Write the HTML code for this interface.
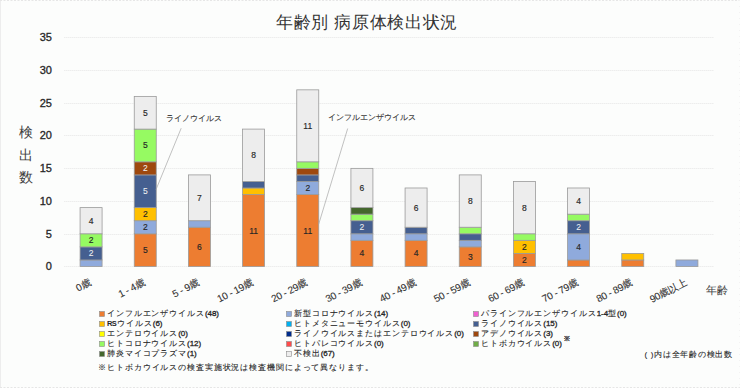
<!DOCTYPE html>
<html><head><meta charset="utf-8"><style>
html,body{margin:0;padding:0;background:#FCFDFC;}
svg{display:block;font-family:"Liberation Sans",sans-serif;}
</style></head><body>
<svg width="740" height="388" viewBox="0 0 740 388">
<rect x="0" y="0" width="740" height="388" fill="#FCFDFC"/>
<line x1="0.5" y1="0" x2="0.5" y2="388" stroke="#EDEDED"/>
<line x1="0" y1="0.5" x2="740" y2="0.5" stroke="#E6E6E6" stroke-dasharray="2,1.5"/>
<line x1="0" y1="387.5" x2="740" y2="387.5" stroke="#E6E6E6" stroke-dasharray="2,1.5"/>
<line x1="739.5" y1="0" x2="739.5" y2="388" stroke="#F3F3F3" stroke-dasharray="1,5"/>

<text x="367" y="28" font-size="17" letter-spacing="0.65" fill="#333333" text-anchor="middle">年齢別 病原体検出状況</text>
<line x1="64" y1="266.5" x2="714" y2="266.5" stroke="#EDEDED" stroke-width="1" stroke-dasharray="1.5,0.5"/>
<text x="51.9" y="269.9" font-size="11" fill="#262626" stroke="#262626" stroke-width="0.3" text-anchor="end">0</text>
<line x1="64" y1="234.5" x2="714" y2="234.5" stroke="#EDEDED" stroke-width="1" stroke-dasharray="1.5,0.5"/>
<text x="51.9" y="237.9" font-size="11" fill="#262626" stroke="#262626" stroke-width="0.3" text-anchor="end">5</text>
<line x1="64" y1="201.5" x2="714" y2="201.5" stroke="#EDEDED" stroke-width="1" stroke-dasharray="1.5,0.5"/>
<text x="51.9" y="204.9" font-size="11" fill="#262626" stroke="#262626" stroke-width="0.3" text-anchor="end">10</text>
<line x1="64" y1="168.5" x2="714" y2="168.5" stroke="#EDEDED" stroke-width="1" stroke-dasharray="1.5,0.5"/>
<text x="51.9" y="171.9" font-size="11" fill="#262626" stroke="#262626" stroke-width="0.3" text-anchor="end">15</text>
<line x1="64" y1="135.5" x2="714" y2="135.5" stroke="#EDEDED" stroke-width="1" stroke-dasharray="1.5,0.5"/>
<text x="51.9" y="138.9" font-size="11" fill="#262626" stroke="#262626" stroke-width="0.3" text-anchor="end">20</text>
<line x1="64" y1="103.5" x2="714" y2="103.5" stroke="#EDEDED" stroke-width="1" stroke-dasharray="1.5,0.5"/>
<text x="51.9" y="106.9" font-size="11" fill="#262626" stroke="#262626" stroke-width="0.3" text-anchor="end">25</text>
<line x1="64" y1="70.5" x2="714" y2="70.5" stroke="#EDEDED" stroke-width="1" stroke-dasharray="1.5,0.5"/>
<text x="51.9" y="73.9" font-size="11" fill="#262626" stroke="#262626" stroke-width="0.3" text-anchor="end">30</text>
<line x1="64" y1="37.5" x2="714" y2="37.5" stroke="#EDEDED" stroke-width="1" stroke-dasharray="1.5,0.5"/>
<text x="51.9" y="40.9" font-size="11" fill="#262626" stroke="#262626" stroke-width="0.3" text-anchor="end">35</text>
<text x="25.7" y="137.0" font-size="14" fill="#404040" text-anchor="middle">検</text>
<text x="25.7" y="159.6" font-size="14" fill="#404040" text-anchor="middle">出</text>
<text x="25.7" y="182.2" font-size="14" fill="#404040" text-anchor="middle">数</text>
<rect x="80.08" y="259.96" width="22" height="6.54" fill="#8FAADC" stroke="#9A9A9A" stroke-width="0.8"/>
<rect x="80.08" y="246.87" width="22" height="13.09" fill="#455F90" stroke="#9A9A9A" stroke-width="0.8"/>
<text x="91.08" y="256.41" font-size="8.5" fill="#F2F2F2" stroke="#F2F2F2" stroke-width="0.05" text-anchor="middle">2</text>
<rect x="80.08" y="233.79" width="22" height="13.09" fill="#96FA62" stroke="#9A9A9A" stroke-width="0.8"/>
<text x="91.08" y="243.33" font-size="8.5" fill="#262626" stroke="#262626" stroke-width="0.15" text-anchor="middle">2</text>
<rect x="80.08" y="207.61" width="22" height="26.17" fill="#EDEDED" stroke="#9A9A9A" stroke-width="0.8"/>
<text x="91.08" y="223.70" font-size="8.5" fill="#262626" stroke="#262626" stroke-width="0.15" text-anchor="middle">4</text>
<rect x="134.25" y="233.79" width="22" height="32.71" fill="#ED7D31" stroke="#9A9A9A" stroke-width="0.8"/>
<text x="145.25" y="253.14" font-size="8.5" fill="#262626" stroke="#262626" stroke-width="0.15" text-anchor="middle">5</text>
<rect x="134.25" y="220.70" width="22" height="13.09" fill="#8FAADC" stroke="#9A9A9A" stroke-width="0.8"/>
<text x="145.25" y="230.24" font-size="8.5" fill="#262626" stroke="#262626" stroke-width="0.15" text-anchor="middle">2</text>
<rect x="134.25" y="207.61" width="22" height="13.09" fill="#FFC000" stroke="#9A9A9A" stroke-width="0.8"/>
<text x="145.25" y="217.16" font-size="8.5" fill="#262626" stroke="#262626" stroke-width="0.15" text-anchor="middle">2</text>
<rect x="134.25" y="174.90" width="22" height="32.71" fill="#455F90" stroke="#9A9A9A" stroke-width="0.8"/>
<text x="145.25" y="194.26" font-size="8.5" fill="#F2F2F2" stroke="#F2F2F2" stroke-width="0.05" text-anchor="middle">5</text>
<rect x="134.25" y="161.81" width="22" height="13.09" fill="#9E480E" stroke="#9A9A9A" stroke-width="0.8"/>
<text x="145.25" y="171.36" font-size="8.5" fill="#F2F2F2" stroke="#F2F2F2" stroke-width="0.05" text-anchor="middle">2</text>
<rect x="134.25" y="129.10" width="22" height="32.71" fill="#96FA62" stroke="#9A9A9A" stroke-width="0.8"/>
<text x="145.25" y="148.46" font-size="8.5" fill="#262626" stroke="#262626" stroke-width="0.15" text-anchor="middle">5</text>
<rect x="134.25" y="96.39" width="22" height="32.71" fill="#EDEDED" stroke="#9A9A9A" stroke-width="0.8"/>
<text x="145.25" y="115.74" font-size="8.5" fill="#262626" stroke="#262626" stroke-width="0.15" text-anchor="middle">5</text>
<rect x="188.42" y="227.24" width="22" height="39.26" fill="#ED7D31" stroke="#9A9A9A" stroke-width="0.8"/>
<text x="199.42" y="249.87" font-size="8.5" fill="#262626" stroke="#262626" stroke-width="0.15" text-anchor="middle">6</text>
<rect x="188.42" y="220.70" width="22" height="6.54" fill="#8FAADC" stroke="#9A9A9A" stroke-width="0.8"/>
<rect x="188.42" y="174.90" width="22" height="45.80" fill="#EDEDED" stroke="#9A9A9A" stroke-width="0.8"/>
<text x="199.42" y="200.80" font-size="8.5" fill="#262626" stroke="#262626" stroke-width="0.15" text-anchor="middle">7</text>
<rect x="242.58" y="194.53" width="22" height="71.97" fill="#ED7D31" stroke="#9A9A9A" stroke-width="0.8"/>
<text x="253.58" y="233.51" font-size="8.5" fill="#262626" stroke="#262626" stroke-width="0.15" text-anchor="middle">11</text>
<rect x="242.58" y="187.99" width="22" height="6.54" fill="#FFC000" stroke="#9A9A9A" stroke-width="0.8"/>
<rect x="242.58" y="181.44" width="22" height="6.54" fill="#455F90" stroke="#9A9A9A" stroke-width="0.8"/>
<rect x="242.58" y="129.10" width="22" height="52.34" fill="#EDEDED" stroke="#9A9A9A" stroke-width="0.8"/>
<text x="253.58" y="158.27" font-size="8.5" fill="#262626" stroke="#262626" stroke-width="0.15" text-anchor="middle">8</text>
<rect x="296.75" y="194.53" width="22" height="71.97" fill="#ED7D31" stroke="#9A9A9A" stroke-width="0.8"/>
<text x="307.75" y="233.51" font-size="8.5" fill="#262626" stroke="#262626" stroke-width="0.15" text-anchor="middle">11</text>
<rect x="296.75" y="181.44" width="22" height="13.09" fill="#8FAADC" stroke="#9A9A9A" stroke-width="0.8"/>
<text x="307.75" y="190.99" font-size="8.5" fill="#262626" stroke="#262626" stroke-width="0.15" text-anchor="middle">2</text>
<rect x="296.75" y="174.90" width="22" height="6.54" fill="#455F90" stroke="#9A9A9A" stroke-width="0.8"/>
<rect x="296.75" y="168.36" width="22" height="6.54" fill="#9E480E" stroke="#9A9A9A" stroke-width="0.8"/>
<rect x="296.75" y="161.81" width="22" height="6.54" fill="#96FA62" stroke="#9A9A9A" stroke-width="0.8"/>
<rect x="296.75" y="89.84" width="22" height="71.97" fill="#EDEDED" stroke="#9A9A9A" stroke-width="0.8"/>
<text x="307.75" y="128.83" font-size="8.5" fill="#262626" stroke="#262626" stroke-width="0.15" text-anchor="middle">11</text>
<rect x="350.92" y="240.33" width="22" height="26.17" fill="#ED7D31" stroke="#9A9A9A" stroke-width="0.8"/>
<text x="361.92" y="256.41" font-size="8.5" fill="#262626" stroke="#262626" stroke-width="0.15" text-anchor="middle">4</text>
<rect x="350.92" y="233.79" width="22" height="6.54" fill="#8FAADC" stroke="#9A9A9A" stroke-width="0.8"/>
<rect x="350.92" y="220.70" width="22" height="13.09" fill="#455F90" stroke="#9A9A9A" stroke-width="0.8"/>
<text x="361.92" y="230.24" font-size="8.5" fill="#F2F2F2" stroke="#F2F2F2" stroke-width="0.05" text-anchor="middle">2</text>
<rect x="350.92" y="214.16" width="22" height="6.54" fill="#96FA62" stroke="#9A9A9A" stroke-width="0.8"/>
<rect x="350.92" y="207.61" width="22" height="6.54" fill="#44672C" stroke="#9A9A9A" stroke-width="0.8"/>
<rect x="350.92" y="168.36" width="22" height="39.26" fill="#EDEDED" stroke="#9A9A9A" stroke-width="0.8"/>
<text x="361.92" y="190.99" font-size="8.5" fill="#262626" stroke="#262626" stroke-width="0.15" text-anchor="middle">6</text>
<rect x="405.08" y="240.33" width="22" height="26.17" fill="#ED7D31" stroke="#9A9A9A" stroke-width="0.8"/>
<text x="416.08" y="256.41" font-size="8.5" fill="#262626" stroke="#262626" stroke-width="0.15" text-anchor="middle">4</text>
<rect x="405.08" y="233.79" width="22" height="6.54" fill="#8FAADC" stroke="#9A9A9A" stroke-width="0.8"/>
<rect x="405.08" y="227.24" width="22" height="6.54" fill="#455F90" stroke="#9A9A9A" stroke-width="0.8"/>
<rect x="405.08" y="187.99" width="22" height="39.26" fill="#EDEDED" stroke="#9A9A9A" stroke-width="0.8"/>
<text x="416.08" y="210.61" font-size="8.5" fill="#262626" stroke="#262626" stroke-width="0.15" text-anchor="middle">6</text>
<rect x="459.25" y="246.87" width="22" height="19.63" fill="#ED7D31" stroke="#9A9A9A" stroke-width="0.8"/>
<text x="470.25" y="259.69" font-size="8.5" fill="#262626" stroke="#262626" stroke-width="0.15" text-anchor="middle">3</text>
<rect x="459.25" y="240.33" width="22" height="6.54" fill="#8FAADC" stroke="#9A9A9A" stroke-width="0.8"/>
<rect x="459.25" y="233.79" width="22" height="6.54" fill="#455F90" stroke="#9A9A9A" stroke-width="0.8"/>
<rect x="459.25" y="227.24" width="22" height="6.54" fill="#96FA62" stroke="#9A9A9A" stroke-width="0.8"/>
<rect x="459.25" y="174.90" width="22" height="52.34" fill="#EDEDED" stroke="#9A9A9A" stroke-width="0.8"/>
<text x="470.25" y="204.07" font-size="8.5" fill="#262626" stroke="#262626" stroke-width="0.15" text-anchor="middle">8</text>
<rect x="513.42" y="253.41" width="22" height="13.09" fill="#ED7D31" stroke="#9A9A9A" stroke-width="0.8"/>
<text x="524.42" y="262.96" font-size="8.5" fill="#262626" stroke="#262626" stroke-width="0.15" text-anchor="middle">2</text>
<rect x="513.42" y="240.33" width="22" height="13.09" fill="#FFC000" stroke="#9A9A9A" stroke-width="0.8"/>
<text x="524.42" y="249.87" font-size="8.5" fill="#262626" stroke="#262626" stroke-width="0.15" text-anchor="middle">2</text>
<rect x="513.42" y="233.79" width="22" height="6.54" fill="#96FA62" stroke="#9A9A9A" stroke-width="0.8"/>
<rect x="513.42" y="181.44" width="22" height="52.34" fill="#EDEDED" stroke="#9A9A9A" stroke-width="0.8"/>
<text x="524.42" y="210.61" font-size="8.5" fill="#262626" stroke="#262626" stroke-width="0.15" text-anchor="middle">8</text>
<rect x="567.58" y="259.96" width="22" height="6.54" fill="#ED7D31" stroke="#9A9A9A" stroke-width="0.8"/>
<rect x="567.58" y="233.79" width="22" height="26.17" fill="#8FAADC" stroke="#9A9A9A" stroke-width="0.8"/>
<text x="578.58" y="249.87" font-size="8.5" fill="#262626" stroke="#262626" stroke-width="0.15" text-anchor="middle">4</text>
<rect x="567.58" y="220.70" width="22" height="13.09" fill="#455F90" stroke="#9A9A9A" stroke-width="0.8"/>
<text x="578.58" y="230.24" font-size="8.5" fill="#F2F2F2" stroke="#F2F2F2" stroke-width="0.05" text-anchor="middle">2</text>
<rect x="567.58" y="214.16" width="22" height="6.54" fill="#96FA62" stroke="#9A9A9A" stroke-width="0.8"/>
<rect x="567.58" y="187.99" width="22" height="26.17" fill="#EDEDED" stroke="#9A9A9A" stroke-width="0.8"/>
<text x="578.58" y="204.07" font-size="8.5" fill="#262626" stroke="#262626" stroke-width="0.15" text-anchor="middle">4</text>
<rect x="621.75" y="259.96" width="22" height="6.54" fill="#ED7D31" stroke="#9A9A9A" stroke-width="0.8"/>
<rect x="621.75" y="253.41" width="22" height="6.54" fill="#FFC000" stroke="#9A9A9A" stroke-width="0.8"/>
<rect x="675.92" y="259.96" width="22" height="6.54" fill="#8FAADC" stroke="#9A9A9A" stroke-width="0.8"/>
<text transform="translate(91.38,285) rotate(-27)" x="0" y="0" font-size="10" letter-spacing="-0.3" fill="#333333" stroke="#333333" stroke-width="0.1" text-anchor="end">0歳</text>
<text transform="translate(145.55,285) rotate(-27)" x="0" y="0" font-size="10" letter-spacing="-0.3" fill="#333333" stroke="#333333" stroke-width="0.1" text-anchor="end">1 - 4歳</text>
<text transform="translate(199.72,285) rotate(-27)" x="0" y="0" font-size="10" letter-spacing="-0.3" fill="#333333" stroke="#333333" stroke-width="0.1" text-anchor="end">5 - 9歳</text>
<text transform="translate(253.88,285) rotate(-27)" x="0" y="0" font-size="10" letter-spacing="-0.3" fill="#333333" stroke="#333333" stroke-width="0.1" text-anchor="end">10 - 19歳</text>
<text transform="translate(308.05,285) rotate(-27)" x="0" y="0" font-size="10" letter-spacing="-0.3" fill="#333333" stroke="#333333" stroke-width="0.1" text-anchor="end">20 - 29歳</text>
<text transform="translate(362.22,285) rotate(-27)" x="0" y="0" font-size="10" letter-spacing="-0.3" fill="#333333" stroke="#333333" stroke-width="0.1" text-anchor="end">30 - 39歳</text>
<text transform="translate(416.38,285) rotate(-27)" x="0" y="0" font-size="10" letter-spacing="-0.3" fill="#333333" stroke="#333333" stroke-width="0.1" text-anchor="end">40 - 49歳</text>
<text transform="translate(470.55,285) rotate(-27)" x="0" y="0" font-size="10" letter-spacing="-0.3" fill="#333333" stroke="#333333" stroke-width="0.1" text-anchor="end">50 - 59歳</text>
<text transform="translate(524.72,285) rotate(-27)" x="0" y="0" font-size="10" letter-spacing="-0.3" fill="#333333" stroke="#333333" stroke-width="0.1" text-anchor="end">60 - 69歳</text>
<text transform="translate(578.88,285) rotate(-27)" x="0" y="0" font-size="10" letter-spacing="-0.3" fill="#333333" stroke="#333333" stroke-width="0.1" text-anchor="end">70 - 79歳</text>
<text transform="translate(633.05,285) rotate(-27)" x="0" y="0" font-size="10" letter-spacing="-0.3" fill="#333333" stroke="#333333" stroke-width="0.1" text-anchor="end">80 - 89歳</text>
<text transform="translate(687.22,285) rotate(-27)" x="0" y="0" font-size="10" letter-spacing="-0.3" fill="#333333" stroke="#333333" stroke-width="0.1" text-anchor="end">90歳以上</text>
<text x="705.5" y="294" font-size="10.8" fill="#404040">年齢</text>
<text x="166" y="121" font-size="7.8" fill="#333333" stroke="#333333" stroke-width="0.1">ライノウイルス</text>
<line x1="181.2" y1="128.2" x2="156" y2="189.6" stroke="#A6A6A6" stroke-width="0.7"/>
<text x="327.8" y="119.5" font-size="7.8" fill="#333333" stroke="#333333" stroke-width="0.1">インフルエンザウイルス</text>
<line x1="347.7" y1="128.5" x2="318.7" y2="224.2" stroke="#A6A6A6" stroke-width="0.7"/>
<rect x="99.5" y="311.5" width="5" height="5" fill="#ED7D31" stroke="#8C8C8C" stroke-width="0.6"/>
<text x="107.0" y="315.9" font-size="8" fill="#262626" stroke="#262626" stroke-width="0.1"><tspan letter-spacing="0.9">インフルエンザウイルス</tspan><tspan stroke-width="0.3" letter-spacing="-0.05">(48)</tspan></text>
<rect x="99.5" y="321.5" width="5" height="5" fill="#FFC000" stroke="#8C8C8C" stroke-width="0.6"/>
<text x="107.0" y="325.9" font-size="8" fill="#262626" stroke="#262626" stroke-width="0.1"><tspan font-weight="bold" stroke-width="0" font-size="7.5" letter-spacing="-0.7">R</tspan><tspan font-weight="bold" stroke-width="0" font-size="7.5" letter-spacing="0.5">S</tspan><tspan letter-spacing="0.9">ウイルス</tspan><tspan stroke-width="0.3" letter-spacing="-0.05">(6)</tspan></text>
<rect x="99.5" y="331.5" width="5" height="5" fill="#FFFF00" stroke="#8C8C8C" stroke-width="0.6"/>
<text x="107.0" y="335.9" font-size="8" fill="#262626" stroke="#262626" stroke-width="0.1"><tspan letter-spacing="0.9">エンテロウイルス</tspan><tspan stroke-width="0.3" letter-spacing="-0.05">(0)</tspan></text>
<rect x="99.5" y="341.5" width="5" height="5" fill="#96FA62" stroke="#8C8C8C" stroke-width="0.6"/>
<text x="107.0" y="345.9" font-size="8" fill="#262626" stroke="#262626" stroke-width="0.1"><tspan letter-spacing="0.9">ヒトコロナウイルス</tspan><tspan stroke-width="0.3" letter-spacing="-0.05">(12)</tspan></text>
<rect x="99.5" y="351.5" width="5" height="5" fill="#44672C" stroke="#8C8C8C" stroke-width="0.6"/>
<text x="107.0" y="355.9" font-size="8" fill="#262626" stroke="#262626" stroke-width="0.1"><tspan letter-spacing="0.9">肺炎マイコプラズマ</tspan><tspan stroke-width="0.3" letter-spacing="-0.05">(1)</tspan></text>
<rect x="286.5" y="311.5" width="5" height="5" fill="#8FAADC" stroke="#8C8C8C" stroke-width="0.6"/>
<text x="294.0" y="315.9" font-size="8" fill="#262626" stroke="#262626" stroke-width="0.1"><tspan letter-spacing="0.9">新型コロナウイルス</tspan><tspan stroke-width="0.3" letter-spacing="-0.05">(14)</tspan></text>
<rect x="286.5" y="321.5" width="5" height="5" fill="#00B0F0" stroke="#8C8C8C" stroke-width="0.6"/>
<text x="294.0" y="325.9" font-size="8" fill="#262626" stroke="#262626" stroke-width="0.1"><tspan letter-spacing="0.9">ヒトメタニューモウイルス</tspan><tspan stroke-width="0.3" letter-spacing="-0.05">(0)</tspan></text>
<rect x="286.5" y="331.5" width="5" height="5" fill="#002C8C" stroke="#8C8C8C" stroke-width="0.6"/>
<text x="294.0" y="335.9" font-size="8" fill="#262626" stroke="#262626" stroke-width="0.1"><tspan letter-spacing="0.9">ライノウイルスまたはエンテロウイルス</tspan><tspan stroke-width="0.3" letter-spacing="-0.05">(0)</tspan></text>
<rect x="286.5" y="341.5" width="5" height="5" fill="#FF4B4B" stroke="#8C8C8C" stroke-width="0.6"/>
<text x="294.0" y="345.9" font-size="8" fill="#262626" stroke="#262626" stroke-width="0.1"><tspan letter-spacing="0.9">ヒトパレコウイルス</tspan><tspan stroke-width="0.3" letter-spacing="-0.05">(0)</tspan></text>
<rect x="286.5" y="351.5" width="5" height="5" fill="#EDEDED" stroke="#8C8C8C" stroke-width="0.6"/>
<text x="294.0" y="355.9" font-size="8" fill="#262626" stroke="#262626" stroke-width="0.1"><tspan letter-spacing="0.9">不検出</tspan><tspan stroke-width="0.3" letter-spacing="-0.05">(67)</tspan></text>
<rect x="473.5" y="311.5" width="5" height="5" fill="#F060D0" stroke="#8C8C8C" stroke-width="0.6"/>
<text x="481.0" y="315.9" font-size="8" fill="#262626" stroke="#262626" stroke-width="0.1"><tspan letter-spacing="0.9">パラインフルエンザウイルス</tspan><tspan stroke-width="0.3" letter-spacing="-0.05">1-4</tspan><tspan letter-spacing="0.9">型</tspan><tspan stroke-width="0.3" letter-spacing="-0.05">(0)</tspan></text>
<rect x="473.5" y="321.5" width="5" height="5" fill="#455F90" stroke="#8C8C8C" stroke-width="0.6"/>
<text x="481.0" y="325.9" font-size="8" fill="#262626" stroke="#262626" stroke-width="0.1"><tspan letter-spacing="0.9">ライノウイルス</tspan><tspan stroke-width="0.3" letter-spacing="-0.05">(15)</tspan></text>
<rect x="473.5" y="331.5" width="5" height="5" fill="#9E480E" stroke="#8C8C8C" stroke-width="0.6"/>
<text x="481.0" y="335.9" font-size="8" fill="#262626" stroke="#262626" stroke-width="0.1"><tspan letter-spacing="0.9">アデノウイルス</tspan><tspan stroke-width="0.3" letter-spacing="-0.05">(3)</tspan></text>
<rect x="473.5" y="341.5" width="5" height="5" fill="#70AD47" stroke="#8C8C8C" stroke-width="0.6"/>
<text x="481.0" y="345.9" font-size="8" fill="#262626" stroke="#262626" stroke-width="0.1"><tspan letter-spacing="0.9">ヒトボカウイルス</tspan><tspan stroke-width="0.3" letter-spacing="-0.05">(0)</tspan></text>
<text x="563.5" y="341" font-size="7" fill="#262626" stroke="#262626" stroke-width="0.35">※</text>
<text x="733" y="357" font-size="8" letter-spacing="0.75" fill="#262626" stroke="#262626" stroke-width="0.1" text-anchor="end">( )内は全年齢の検出数</text>
<text x="98.3" y="370.3" font-size="8" letter-spacing="0.88" fill="#262626" stroke="#262626" stroke-width="0.1">※ヒトボカウイルスの検査実施状況は検査機関によって異なります。</text>
</svg></body></html>
